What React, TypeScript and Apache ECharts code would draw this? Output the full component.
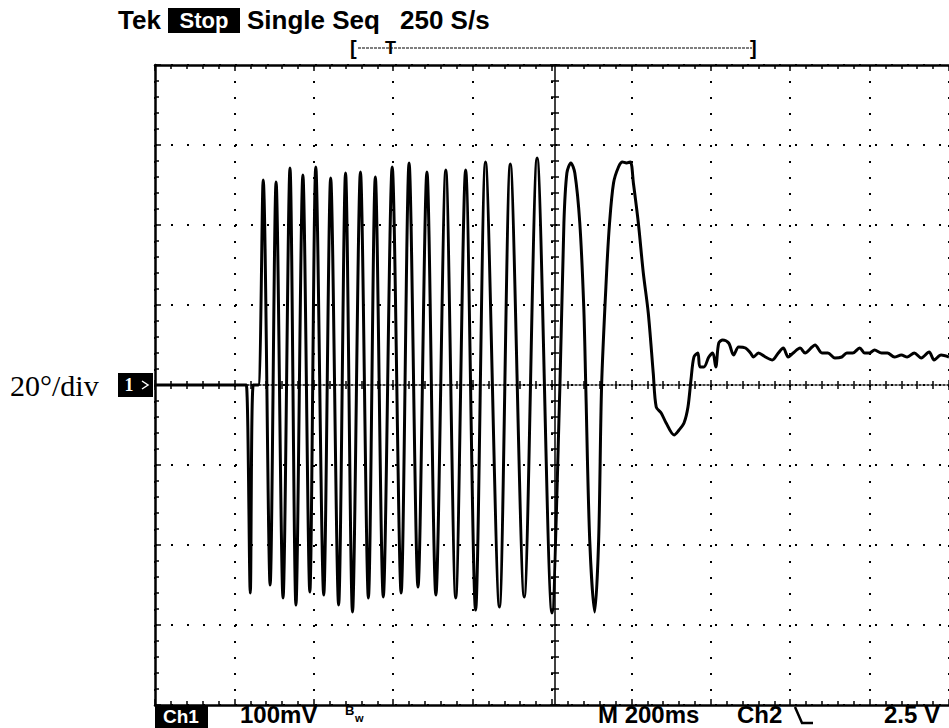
import { useEffect, useRef } from "react";
import * as echarts from "echarts";

// Time (ms) of each sample, 200 ms / div
const timeMs = [
  0, 222.5, 230, 240, 247.5, 260,
  272.5, 290, 305, 322.5, 340, 355, 372.5, 390, 405, 425,
  442.5, 462.5, 480, 497.5, 517.5, 537.5, 555, 575, 597.5, 620,
  640, 662.5, 685, 707.5, 732.5, 757.5, 782.5, 807.5, 832.5, 867.5,
  895, 930, 962.5, 1000,
  1020, 1030, 1037.5, 1047.5, 1057.5, 1070, 1080, 1085, 1095, 1107.5,
  1117.5, 1125, 1137.5, 1145, 1155, 1167.5, 1177.5, 1187.5, 1197.5, 1205,
  1217.5, 1230, 1242.5, 1255, 1262.5, 1275, 1287.5, 1307.5,
  1320, 1332.5, 1342.5, 1350, 1357.5, 1367.5, 1372.5, 1382.5, 1395, 1405,
  1412.5, 1420, 1430, 1445, 1457.5, 1470, 1487.5, 1500, 1507.5, 1520,
  1537.5, 1555, 1570, 1582.5, 1595, 1607.5, 1625, 1637.5, 1655, 1662.5,
  1680, 1695, 1712.5, 1730, 1742.5, 1757.5, 1775, 1787.5, 1800, 1812.5,
  1830, 1845, 1862.5, 1880, 1895, 1912.5, 1930, 1950, 1962.5, 1980,
  2000,
];

// Angle (degrees) at each sample, 20 deg / div
const angleDeg = [
  0, 0, 0, -52, 0, 0,
  51.25, -50, 50.75, -53.25, 54.25, -55, 52.5, -51.75, 54.5, -52.5,
  51.75, -55, 53, -56.75, 53.25, -53.25, 52, -53, 54.5, -52,
  55.5, -50.5, 53.25, -52.5, 53.75, -53.25, 53.75, -56.25, 55.75, -55.5,
  55.25, -53, 56.75, -57,
  0, 40.5, 53, 55.5, 53, 40.5, 19.5, 0, -38.75, -56.75,
  -38.75, 0, 28, 40.5, 50.5, 54.5, 55.75, 55.5, 55.75, 50.5,
  40.5, 28, 18, 3, -5.5, -7, -9.5, -12.5,
  -11.25, -9.5, -5.5, 1.25, 7, 8, 4.5, 4.5, 7, 8,
  4.5, 10.5, 11.25, 10.5, 7.5, 9.5, 9.25, 8, 7, 8,
  7, 6.25, 8, 9.25, 7, 8, 9.25, 8, 9.5, 10,
  8, 8, 6.75, 7, 8, 8, 9.25, 8, 8, 8.75,
  8, 8, 7, 7.5, 7, 8, 6.75, 8.25, 6.25, 7.5,
  7,
];

// Screen scale (10 horizontal, 8 vertical divisions)
const timeRange = [0, 2000];
const timePerDiv = 200;
const angleRange = [-80, 80];
const anglePerDiv = 20;
const subDivisions = 5;

// Readout texts
const headerTexts = ["Tek", "Stop", "Single Seq", "250 S/s"];
const scaleLabel = "20°/div";
const footerTexts = ["Ch1", "100mV", "M 200ms", "Ch2", "2.5 V"];

const BLACK = "#000";
const SANS = "'Liberation Sans', Arial, sans-serif";
const SERIF = "'Liberation Serif', 'Times New Roman', serif";

export default function App() {
  const ref = useRef<HTMLDivElement>(null);

  useEffect(() => {
    document.body.style.margin = "0";
    const chart = echarts.init(ref.current!, undefined, {
      renderer: "svg",
      width: 949,
      height: 728,
    });

    const data = timeMs.map((t, i) => [t, angleDeg[i]]);

    const dotted = { type: [2, 14] as number[], width: 2, color: BLACK, dashOffset: 0 };

    const frameX = (position: "top" | "bottom", split: boolean) => ({
      type: "value",
      gridIndex: 0,
      position,
      min: timeRange[0],
      max: timeRange[1],
      interval: timePerDiv,
      axisLine: { show: true, onZero: false, lineStyle: { color: BLACK, width: 2.5 } },
      axisTick: { show: true, inside: true, length: 6, lineStyle: { color: BLACK, width: 1.5 } },
      minorTick: { show: true, splitNumber: subDivisions, length: 4, lineStyle: { color: BLACK, width: 1.5 } },
      axisLabel: { show: false },
      splitLine: { show: split, lineStyle: dotted },
    });

    const hiddenX = (gridIndex: number) => ({
      type: "value",
      gridIndex,
      min: timeRange[0],
      max: timeRange[1],
      show: false,
    });
    const hiddenY = (gridIndex: number) => ({
      type: "value",
      gridIndex,
      min: angleRange[0],
      max: angleRange[1],
      show: false,
    });

    const centerX = (gridIndex: number, position: "top" | "bottom", showLine: boolean) => ({
      type: "value",
      gridIndex,
      position,
      min: timeRange[0],
      max: timeRange[1],
      interval: timePerDiv,
      axisLine: { show: showLine, onZero: false, lineStyle: { color: BLACK, width: 1.5, type: [2, 2] } },
      axisTick: { show: true, inside: true, length: 5, lineStyle: { color: BLACK, width: 1.5 } },
      minorTick: { show: true, splitNumber: subDivisions, length: 4, lineStyle: { color: BLACK, width: 1.5 } },
      axisLabel: { show: false },
      splitLine: { show: false },
    });

    const centerY = (gridIndex: number, position: "left" | "right", showLine: boolean) => ({
      type: "value",
      gridIndex,
      position,
      min: angleRange[0],
      max: angleRange[1],
      interval: anglePerDiv,
      axisLine: { show: showLine, onZero: false, lineStyle: { color: BLACK, width: 1.5 } },
      axisTick: { show: true, inside: true, length: 5, lineStyle: { color: BLACK, width: 1.5 } },
      minorTick: { show: true, splitNumber: subDivisions, length: 4, lineStyle: { color: BLACK, width: 1.5 } },
      axisLabel: { show: false },
      splitLine: { show: false },
    });

    const txt = (text: string, x: number, y: number, font: string, fill = BLACK, align = "left") => ({
      type: "text",
      x,
      y,
      z: 10,
      style: { text, font, fill, align, verticalAlign: "middle" },
    });

    const option: any = {
      animation: false,
      backgroundColor: "#fff",
      grid: [
        { left: 155, top: 65, width: 800, height: 640 },
        { left: 155, top: 65, width: 800, height: 320 },
        { left: 155, top: 385, width: 800, height: 320 },
        { left: 155, top: 65, width: 400, height: 640 },
        { left: 555, top: 65, width: 400, height: 640 },
      ],
      xAxis: [
        frameX("bottom", true),
        frameX("top", false),
        centerX(1, "bottom", true),
        centerX(2, "top", false),
        hiddenX(3),
        hiddenX(4),
      ],
      yAxis: [
        {
          type: "value",
          gridIndex: 0,
          position: "left",
          min: angleRange[0],
          max: angleRange[1],
          interval: anglePerDiv,
          axisLine: { show: true, onZero: false, lineStyle: { color: BLACK, width: 2.5 } },
          axisTick: { show: true, inside: true, length: 6, lineStyle: { color: BLACK, width: 1.5 } },
          minorTick: { show: true, splitNumber: subDivisions, length: 4, lineStyle: { color: BLACK, width: 1.5 } },
          axisLabel: { show: false },
          splitLine: { show: true, lineStyle: dotted },
        },
        hiddenY(1),
        hiddenY(2),
        centerY(3, "right", true),
        centerY(4, "left", false),
      ],
      series: [
        {
          type: "line",
          xAxisIndex: 0,
          yAxisIndex: 0,
          data,
          showSymbol: false,
          smooth: 0.3,
          z: 5,
          lineStyle: { color: BLACK, width: 3 },
        },
      ],
      graphic: [
        txt(headerTexts[0], 118, 20, `bold 26px ${SANS}`),
        { type: "rect", shape: { x: 168, y: 8, width: 72, height: 25 }, style: { fill: BLACK }, z: 9 },
        txt(headerTexts[1], 204, 20, `bold 22px ${SANS}`, "#fff", "center"),
        txt(headerTexts[2], 247, 20, `bold 26px ${SANS}`),
        txt(headerTexts[3], 400, 20, `bold 26px ${SANS}`),
        txt("[", 350, 48, `bold 20px ${SANS}`),
        txt("T", 385, 48, `bold 18px ${SANS}`),
        txt("]", 750, 48, `bold 20px ${SANS}`),
        {
          type: "line",
          z: 9,
          shape: { x1: 358, y1: 48, x2: 752, y2: 48 },
          style: { stroke: BLACK, lineWidth: 1.2, lineDash: [3, 1] },
        },
        txt(scaleLabel, 10, 385, `30px ${SERIF}`),
        { type: "rect", shape: { x: 118, y: 373, width: 35, height: 24 }, style: { fill: BLACK }, z: 9 },
        txt("1", 129, 385, `bold 18px ${SERIF}`, "#fff", "center"),
        {
          type: "polyline",
          z: 10,
          shape: { points: [[142, 381], [148, 385], [142, 389]] },
          style: { stroke: "#fff", lineWidth: 1.5, fill: "none" },
        },
        { type: "rect", shape: { x: 155, y: 705, width: 53, height: 23 }, style: { fill: BLACK }, z: 9 },
        txt(footerTexts[0], 181, 716, `bold 19px ${SANS}`, "#fff", "center"),
        txt(footerTexts[1], 240, 714, `bold 24px ${SANS}`),
        txt("B", 345, 710, `bold 13px ${SANS}`),
        txt("w", 355, 718, `bold 11px ${SANS}`),
        txt(footerTexts[2], 598, 714, `bold 24px ${SANS}`),
        txt(footerTexts[3], 737, 714, `bold 24px ${SANS}`),
        {
          type: "polyline",
          z: 10,
          shape: { points: [[795, 707], [802, 723], [813, 723]] },
          style: { stroke: BLACK, lineWidth: 2.5, fill: "none" },
        },
        txt(footerTexts[4], 884, 714, `bold 24px ${SANS}`),
      ],
    };

    chart.setOption(option);
    return () => chart.dispose();
  }, []);

  return (
    <div
      ref={ref}
      style={{ position: "fixed", left: 0, top: 0, width: 949, height: 728, background: "#fff" }}
    />
  );
}
